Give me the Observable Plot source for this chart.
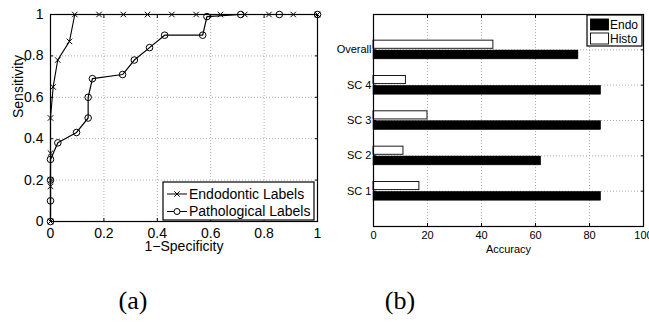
<!DOCTYPE html>
<html><head><meta charset="utf-8">
<script src="https://cdn.jsdelivr.net/npm/d3@7"></script>
<script src="https://cdn.jsdelivr.net/npm/@observablehq/plot@0.6"></script>
<style>
body{margin:0;background:#fff;}
#wrap{position:relative;width:649px;height:322px;overflow:hidden;background:#fff;font-family:"Liberation Sans",Arial,sans-serif;}
#wrap svg{position:absolute;top:0;}
.cap{position:absolute;top:288px;font-family:"Liberation Serif","DejaVu Serif",serif;font-size:26px;line-height:26px;transform:translateX(-50%);color:#000;}
</style></head><body><div id="wrap"></div>
<script>
// ---- Panel (a): ROC curves ----
const endoX = [0, 0, 0, 0, 0, 0.01, 0.027, 0.071, 0.0909, 0.1818, 0.2727, 0.3636, 0.4545, 0.5454, 0.6364, 0.7273, 0.8182, 0.9091, 1];
const endoY = [0, 0.17, 0.2, 0.33, 0.5, 0.65, 0.78, 0.87, 1, 1, 1, 1, 1, 1, 1, 1, 1, 1, 1];
const pathoX = [0, 0, 0, 0, 0.0275, 0.0975, 0.141, 0.141, 0.157, 0.27, 0.314, 0.371, 0.4275, 0.57, 0.586, 0.7125, 0.857, 1];
const pathoY = [0, 0.1, 0.2, 0.3, 0.38, 0.43, 0.5, 0.6, 0.69, 0.71, 0.78, 0.84, 0.9, 0.9, 0.99, 1, 1, 1];
const rocTicks = [0, 0.2, 0.4, 0.6, 0.8, 1];
const rocGrid = [0.2, 0.4, 0.6, 0.8];
const rocLegend = ["Endodontic Labels", "Pathological Labels"];

// ---- Panel (b): accuracy bars ----
const categories = ["SC 1", "SC 2", "SC 3", "SC 4", "Overall"];
const endoAcc = [84.3, 62.1, 84.3, 84.3, 75.9];
const histoAcc = [17.0, 11.1, 20.0, 12.0, 44.4];
const accTicks = [0, 20, 40, 60, 80, 100];
const accGrid = [20, 40, 60, 80];
const barLegend = ["Endo", "Histo"];

const wrap = document.getElementById("wrap");
const font = "Liberation Sans, Arial, sans-serif";
const gridStyle = {stroke: "#999", strokeOpacity: 1, strokeWidth: 0.8, strokeDasharray: "1,2"};

const endo = endoX.map((x, i) => ({x, y: endoY[i]}));
const patho = pathoX.map((x, i) => ({x, y: pathoY[i]}));

const left = Plot.plot({
  width: 330, height: 260,
  marginLeft: 50, marginRight: 13, marginTop: 14, marginBottom: 39,
  style: {fontFamily: font, fontSize: "14px", background: "transparent", overflow: "visible", color: "black"},
  x: {domain: [0, 1]},
  y: {domain: [0, 1]},
  marks: [
    Plot.gridX({ticks: rocGrid, ...gridStyle}),
    Plot.gridY({ticks: rocGrid, ...gridStyle}),
    Plot.line(endo, {x: "x", y: "y", stroke: "black", strokeWidth: 1.1}),
    Plot.dot(endo, {x: "x", y: "y", symbol: "times", r: 2.6, stroke: "black", strokeWidth: 1}),
    Plot.line(patho, {x: "x", y: "y", stroke: "black", strokeWidth: 1.2}),
    Plot.dot(patho, {x: "x", y: "y", symbol: "circle", r: 3.3, stroke: "black", fill: "none", strokeWidth: 1}),
    Plot.frame({stroke: "black", strokeWidth: 1.2}),
    Plot.axisX({ticks: rocTicks, anchor: "bottom", tickSize: 3, dy: -3, tickPadding: 7, label: null, tickFormat: d => String(d), fontSize: 14, fill: "black"}),
    Plot.axisX({ticks: rocTicks, anchor: "top", tickSize: 3, dy: 3, label: null, tickFormat: () => ""}),
    Plot.axisY({ticks: rocTicks, anchor: "left", tickSize: 3, dx: 3, tickPadding: 7, label: null, tickFormat: d => String(d), fontSize: 14, fill: "black"}),
    Plot.axisY({ticks: rocTicks, anchor: "right", tickSize: 3, dx: -3, label: null, tickFormat: () => ""}),
    Plot.text(["1−Specificity"], {text: d => d, frameAnchor: "bottom", lineAnchor: "top", dy: 20, fontSize: 14, fill: "black"}),
    Plot.text(["Sensitivity"], {text: d => d, frameAnchor: "left", rotate: -90, dx: -32, fontSize: 14, fill: "black"})
  ]
});
left.style.left = "0px";
wrap.appendChild(left);

const bars = categories.map((c, i) => ({cat: c, pos: i + 1, endo: endoAcc[i], histo: histoAcc[i]}));
const catPos = categories.map((c, i) => i + 1);

const right = Plot.plot({
  width: 319, height: 260,
  marginLeft: 43, marginRight: 6, marginTop: 14, marginBottom: 34,
  style: {fontFamily: font, fontSize: "11px", background: "transparent", overflow: "visible", color: "black"},
  x: {domain: [0, 100]},
  y: {domain: [0, 6]},
  marks: [
    Plot.gridX({ticks: accGrid, ...gridStyle}),
    Plot.gridY({ticks: catPos, ...gridStyle}),
    Plot.rectX(bars, {x1: 0, x2: "histo", y1: d => d.pos + 0.03, y2: d => d.pos + 0.26, fill: "white", stroke: "black", strokeWidth: 0.9}),
    Plot.rectX(bars, {x1: 0, x2: "endo", y1: d => d.pos - 0.02, y2: d => d.pos - 0.27, fill: "black", stroke: "black", strokeWidth: 0.5}),
    Plot.frame({stroke: "black", strokeWidth: 1.2}),
    Plot.axisX({ticks: accTicks, anchor: "bottom", tickSize: 3, dy: -3, tickPadding: 5, label: null, fontSize: 11, fill: "black"}),
    Plot.axisX({ticks: accTicks, anchor: "top", tickSize: 3, dy: 3, label: null, tickFormat: () => ""}),
    Plot.axisY({ticks: catPos, anchor: "left", tickSize: 3, dx: 3, tickPadding: 2, label: null, tickFormat: d => categories[d - 1], fontSize: 11, fill: "black"}),
    Plot.axisY({ticks: catPos, anchor: "right", tickSize: 3, dx: -3, label: null, tickFormat: () => ""}),
    Plot.text(["Accuracy"], {text: d => d, frameAnchor: "bottom", lineAnchor: "top", dy: 19, fontSize: 11, fill: "black"})
  ]
});
right.style.left = "330px";
wrap.appendChild(right);

// ---- Legends (overlay) ----
const ov = d3.create("svg").attr("width", 649).attr("height", 322)
  .style("left", "0px").style("pointer-events", "none")
  .attr("font-family", font);

// Legend (a)
const la = ov.append("g");
la.append("rect").attr("x", 163).attr("y", 182).attr("width", 151).attr("height", 38)
  .attr("fill", "white").attr("stroke", "black").attr("stroke-width", 1.2);
const rowsA = [194, 211.5];
rocLegend.forEach((t, i) => {
  const y = rowsA[i];
  la.append("line").attr("x1", 167).attr("x2", 187).attr("y1", y).attr("y2", y).attr("stroke", "black");
  if (i === 0) {
    la.append("path").attr("d", d3.symbol(d3.symbolTimes, 20)()).attr("transform", `translate(177,${y})`)
      .attr("stroke", "black").attr("fill", "none");
  } else {
    la.append("circle").attr("cx", 177).attr("cy", y).attr("r", 3).attr("stroke", "black").attr("fill", "white");
  }
  la.append("text").attr("x", 189).attr("y", y).attr("dy", "0.35em").attr("font-size", 14).text(t);
});

// Legend (b)
const lb = ov.append("g");
lb.append("rect").attr("x", 587).attr("y", 15).attr("width", 55).attr("height", 31)
  .attr("fill", "white").attr("stroke", "black").attr("stroke-width", 1.2);
const rowsB = [19, 33];
barLegend.forEach((t, i) => {
  lb.append("rect").attr("x", 590.5).attr("y", rowsB[i]).attr("width", 18).attr("height", 11)
    .attr("fill", i === 0 ? "black" : "white").attr("stroke", "black").attr("stroke-width", 0.9);
  lb.append("text").attr("x", 610).attr("y", rowsB[i] + 5.5).attr("dy", "0.35em").attr("font-size", 12).text(t);
});
wrap.appendChild(ov.node());

// Captions
[["(a)", 133], ["(b)", 400]].forEach(([t, x]) => {
  const d = document.createElement("div");
  d.className = "cap"; d.style.left = x + "px"; d.textContent = t;
  wrap.appendChild(d);
});
</script>
</body></html>
